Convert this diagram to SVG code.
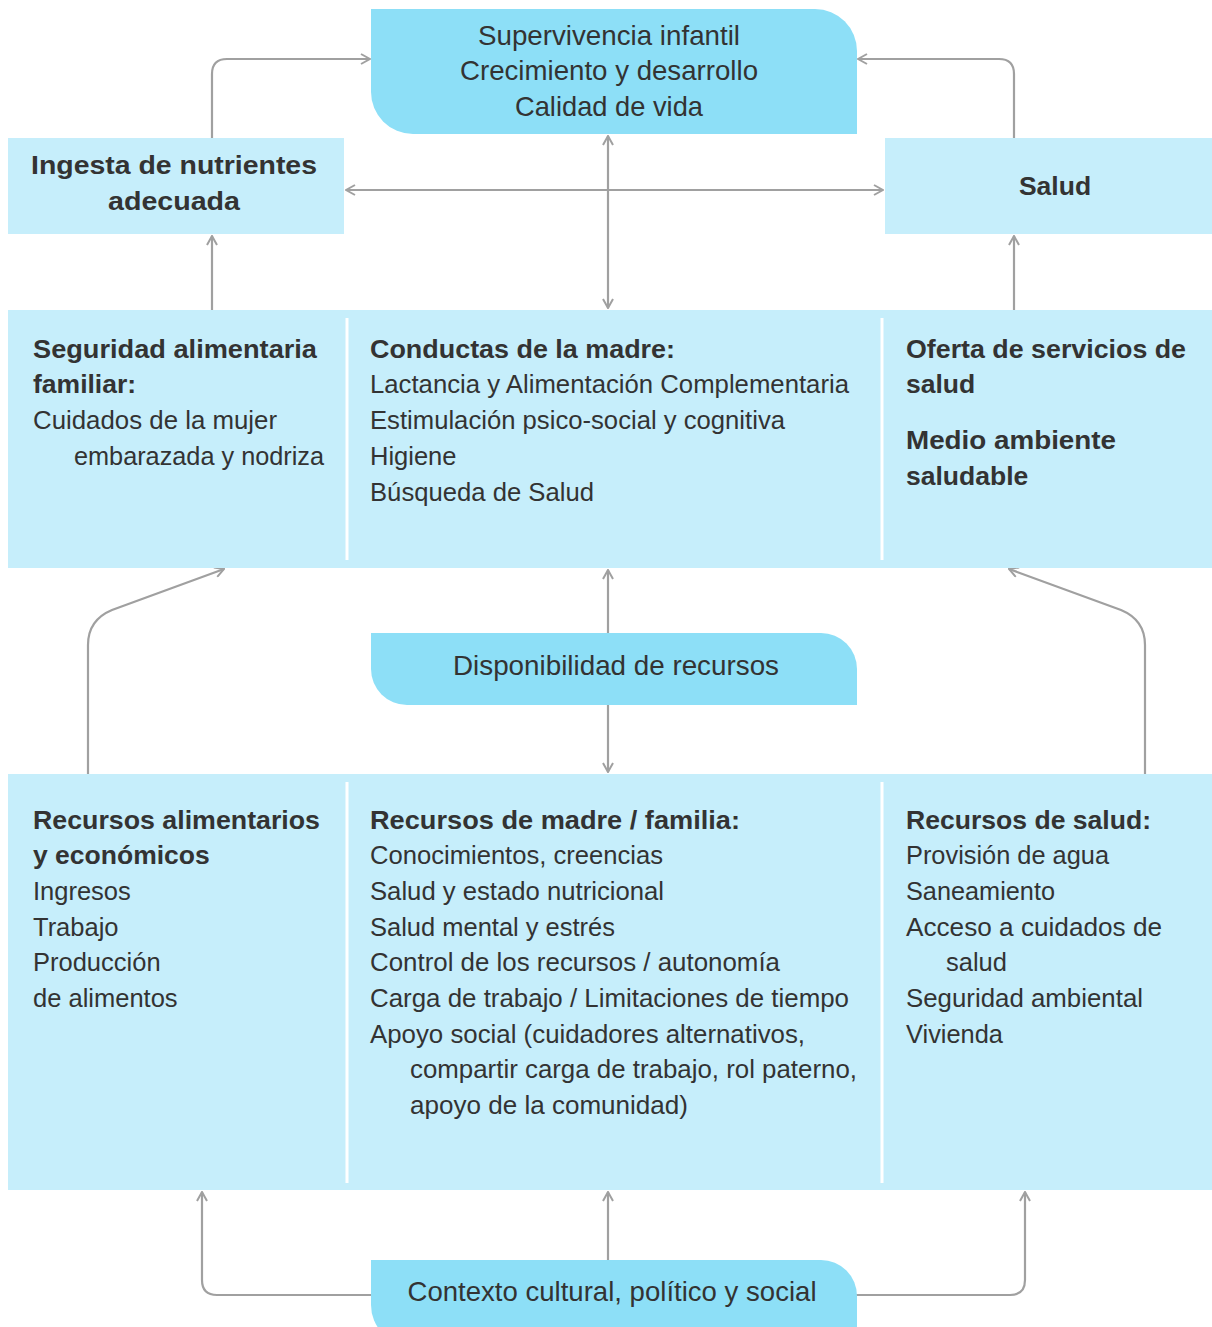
<svg xmlns="http://www.w3.org/2000/svg" width="1212" height="1327" viewBox="0 0 1212 1327">
<defs>
<style>
.light{fill:#c6eefb}
.dark{fill:#8ddff7}
.div{stroke:#ffffff;stroke-width:3}
.t{font-family:"Liberation Sans",Arial,sans-serif;font-size:25.5px;fill:#333333}
.b{font-family:"Liberation Sans",Arial,sans-serif;font-size:26.5px;font-weight:bold;fill:#333333}
.h{font-family:"Liberation Sans",Arial,sans-serif;font-size:27.5px;fill:#333333;text-anchor:middle}
.c{fill:none;stroke:#a0a0a0;stroke-width:2.2}
</style>
<marker id="ah" viewBox="0 0 12 12" refX="11" refY="6" markerWidth="12" markerHeight="12" markerUnits="userSpaceOnUse" orient="auto-start-reverse">
<path d="M2,1 L11,6 L2,11" fill="none" stroke="#a0a0a0" stroke-width="2"/>
</marker>
</defs>
<rect width="1212" height="1327" fill="#ffffff"/>

<g id="connectors">
<path class="c" d="M212,138 V74 Q212,59 227,59 H370" marker-end="url(#ah)"/>
<path class="c" d="M1014,138 V74 Q1014,59 999,59 H858" marker-end="url(#ah)"/>
<path class="c" d="M346,190 H883" marker-start="url(#ah)" marker-end="url(#ah)"/>
<path class="c" d="M608,136 V308" marker-start="url(#ah)" marker-end="url(#ah)"/>
<path class="c" d="M212,310 V236" marker-end="url(#ah)"/>
<path class="c" d="M1014,310 V236" marker-end="url(#ah)"/>
<path class="c" d="M88,774 V645 Q88,620 112,610 L224,569" marker-end="url(#ah)"/>
<path class="c" d="M1145,774 V645 Q1145,620 1121,610 L1009,569" marker-end="url(#ah)"/>
<path class="c" d="M608,633 V570" marker-end="url(#ah)"/>
<path class="c" d="M608,705 V772" marker-end="url(#ah)"/>
<path class="c" d="M608,1260 V1192" marker-end="url(#ah)"/>
<path class="c" d="M372,1295 H217 Q202,1295 202,1280 V1192" marker-end="url(#ah)"/>
<path class="c" d="M856,1295 H1010 Q1025,1295 1025,1280 V1192" marker-end="url(#ah)"/>
</g>

<g id="outcomes">
<path class="dark" d="M371,9 H815 A42,42 0 0 1 857,51 V134 H413 A42,42 0 0 1 371,92 Z"/>
<text class="h" x="609" y="45" textLength="262" lengthAdjust="spacingAndGlyphs">Supervivencia infantil</text>
<text class="h" x="609" y="80" textLength="298" lengthAdjust="spacingAndGlyphs">Crecimiento y desarrollo</text>
<text class="h" x="609" y="116" textLength="188" lengthAdjust="spacingAndGlyphs">Calidad de vida</text>
</g>

<g id="ingesta">
<rect class="light" x="8" y="138" width="336" height="96"/>
<text class="b" x="174" y="174" text-anchor="middle" textLength="286" lengthAdjust="spacingAndGlyphs">Ingesta de nutrientes</text>
<text class="b" x="174" y="210" text-anchor="middle" textLength="132" lengthAdjust="spacingAndGlyphs">adecuada</text>
</g>

<g id="salud">
<rect class="light" x="885" y="138" width="327" height="96"/>
<text class="b" x="1055" y="195" text-anchor="middle">Salud</text>
</g>

<g id="middle-row">
<rect class="light" x="8" y="310" width="1204" height="258"/>
<line class="div" x1="347" y1="318" x2="347" y2="560"/>
<line class="div" x1="882" y1="318" x2="882" y2="560"/>
</g>

<g id="seguridad">
<text class="b" x="33" y="358" textLength="284" lengthAdjust="spacingAndGlyphs">Seguridad alimentaria</text>
<text class="b" x="33" y="393">familiar:</text>
<text class="t" x="33" y="429" textLength="244" lengthAdjust="spacingAndGlyphs">Cuidados de la mujer</text>
<text class="t" x="74" y="465" textLength="250" lengthAdjust="spacingAndGlyphs">embarazada y nodriza</text>
</g>

<g id="conductas">
<text class="b" x="370" y="358" textLength="305" lengthAdjust="spacingAndGlyphs">Conductas de la madre:</text>
<text class="t" x="370" y="393" textLength="479" lengthAdjust="spacingAndGlyphs">Lactancia y Alimentación Complementaria</text>
<text class="t" x="370" y="429" textLength="415" lengthAdjust="spacingAndGlyphs">Estimulación psico-social y cognitiva</text>
<text class="t" x="370" y="465">Higiene</text>
<text class="t" x="370" y="501" textLength="224" lengthAdjust="spacingAndGlyphs">Búsqueda de Salud</text>
</g>

<g id="oferta">
<text class="b" x="906" y="358" textLength="280" lengthAdjust="spacingAndGlyphs">Oferta de servicios de</text>
<text class="b" x="906" y="393">salud</text>
<text class="b" x="906" y="449" textLength="210" lengthAdjust="spacingAndGlyphs">Medio ambiente</text>
<text class="b" x="906" y="485">saludable</text>
</g>

<g id="disponibilidad">
<path class="dark" d="M371,633 H821 A36,36 0 0 1 857,669 V705 H407 A36,36 0 0 1 371,669 Z"/>
<text class="h" x="616" y="675" textLength="326" lengthAdjust="spacingAndGlyphs">Disponibilidad de recursos</text>
</g>

<g id="bottom-row">
<rect class="light" x="8" y="774" width="1204" height="416"/>
<line class="div" x1="347" y1="782" x2="347" y2="1183"/>
<line class="div" x1="882" y1="782" x2="882" y2="1183"/>
</g>

<g id="recursos-alimentarios">
<text class="b" x="33" y="829" textLength="287" lengthAdjust="spacingAndGlyphs">Recursos alimentarios</text>
<text class="b" x="33" y="864">y económicos</text>
<text class="t" x="33" y="900">Ingresos</text>
<text class="t" x="33" y="936">Trabajo</text>
<text class="t" x="33" y="971">Producción</text>
<text class="t" x="33" y="1007">de alimentos</text>
</g>

<g id="recursos-madre">
<text class="b" x="370" y="829" textLength="370" lengthAdjust="spacingAndGlyphs">Recursos de madre / familia:</text>
<text class="t" x="370" y="864" textLength="293" lengthAdjust="spacingAndGlyphs">Conocimientos, creencias</text>
<text class="t" x="370" y="900" textLength="294" lengthAdjust="spacingAndGlyphs">Salud y estado nutricional</text>
<text class="t" x="370" y="936" textLength="245" lengthAdjust="spacingAndGlyphs">Salud mental y estrés</text>
<text class="t" x="370" y="971" textLength="410" lengthAdjust="spacingAndGlyphs">Control de los recursos / autonomía</text>
<text class="t" x="370" y="1007" textLength="479" lengthAdjust="spacingAndGlyphs">Carga de trabajo / Limitaciones de tiempo</text>
<text class="t" x="370" y="1043" textLength="435" lengthAdjust="spacingAndGlyphs">Apoyo social (cuidadores alternativos,</text>
<text class="t" x="410" y="1078" textLength="447" lengthAdjust="spacingAndGlyphs">compartir carga de trabajo, rol paterno,</text>
<text class="t" x="410" y="1114" textLength="278" lengthAdjust="spacingAndGlyphs">apoyo de la comunidad)</text>
</g>

<g id="recursos-salud">
<text class="b" x="906" y="829" textLength="245" lengthAdjust="spacingAndGlyphs">Recursos de salud:</text>
<text class="t" x="906" y="864" textLength="203" lengthAdjust="spacingAndGlyphs">Provisión de agua</text>
<text class="t" x="906" y="900" textLength="149" lengthAdjust="spacingAndGlyphs">Saneamiento</text>
<text class="t" x="906" y="936" textLength="256" lengthAdjust="spacingAndGlyphs">Acceso a cuidados de</text>
<text class="t" x="946" y="971">salud</text>
<text class="t" x="906" y="1007" textLength="237" lengthAdjust="spacingAndGlyphs">Seguridad ambiental</text>
<text class="t" x="906" y="1043" textLength="97" lengthAdjust="spacingAndGlyphs">Vivienda</text>
</g>

<g id="contexto">
<path class="dark" d="M371,1260 H821 A36,36 0 0 1 857,1296 V1345 H411 A40,40 0 0 1 371,1305 Z"/>
<text class="h" x="612" y="1301" textLength="409" lengthAdjust="spacingAndGlyphs">Contexto cultural, político y social</text>
</g>
</svg>
